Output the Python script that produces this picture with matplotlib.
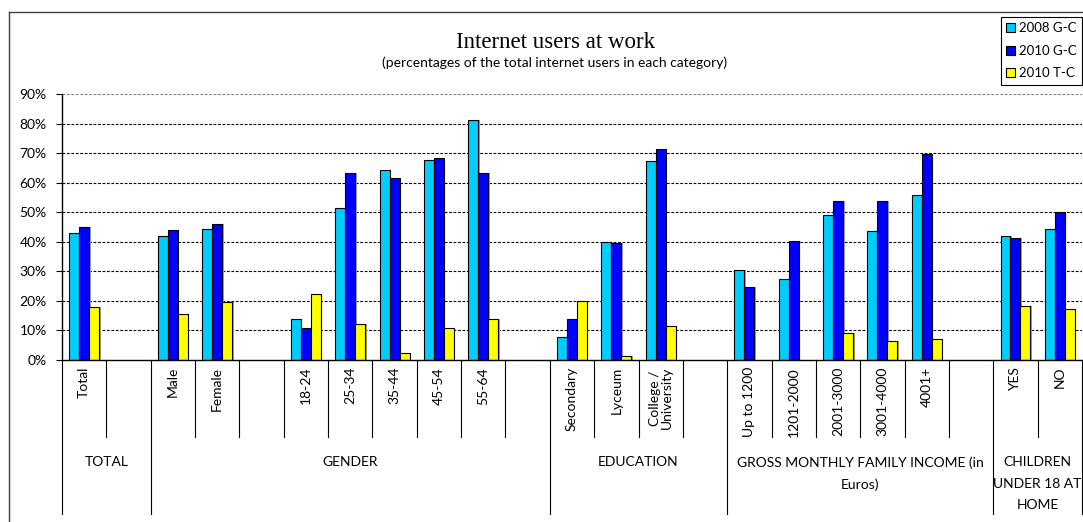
import numpy as np
import matplotlib
matplotlib.use("Agg")
import matplotlib.pyplot as plt
import matplotlib.transforms as mtransforms
from matplotlib.patches import Patch
from matplotlib.lines import Line2D

plt.rcParams['font.family'] = ['Lato', 'DejaVu Sans']

nan = np.nan

# data (percent)
groups = ["TOTAL", "GENDER", "EDUCATION",
          "GROSS MONTHLY FAMILY INCOME (in\nEuros)", "CHILDREN\nUNDER 18 AT\nHOME"]
group_sizes = [2, 9, 4, 6, 2]
categories = ["Total", "",
              "Male", "Female", "", "18-24", "25-34", "35-44", "45-54", "55-64", "",
              "Secondary", "Lyceum", "College /\nUniversity", "",
              "Up to 1200", "1201-2000", "2001-3000", "3001-4000", "4001+", "",
              "YES", "NO"]
g2008 = [43.0, nan, 42.0, 44.3, nan, 14.0, 51.3, 64.2, 67.7, 81.1, nan,
         7.7, 39.8, 67.3, nan, 30.5, 27.4, 48.9, 43.6, 55.7, nan, 41.8, 44.3]
g2010 = [45.0, nan, 44.0, 46.1, nan, 10.8, 63.4, 61.7, 68.3, 63.2, nan,
         14.0, 39.6, 71.3, nan, 24.8, 40.4, 53.9, 53.8, 69.8, nan, 41.2, 50.0]
t2010 = [17.8, nan, 15.7, 19.5, nan, 22.4, 12.2, 2.3, 10.8, 14.0, nan,
         20.0, 1.2, 11.5, nan, nan, nan, 9.0, 6.5, 7.2, nan, 18.2, 17.1]
series_names = ["2008 G-C", "2010 G-C", "2010 T-C"]
colors = ["#00CCFF", "#0000FF", "#FFFF00"]

W, H = 1083, 522
fig = plt.figure(figsize=(W / 100, H / 100), dpi=100)


def fx(x):
    return x / W


def fy(y):
    return 1 - y / H


# plot area in pixels
left, right, top, bottom = 62, 1082, 94, 360
ax = fig.add_axes([fx(left), fy(bottom), fx(right) - fx(left), fy(top) - fy(bottom)])
plot_h = bottom - top

n = len(categories)
x = np.arange(n) + 0.5
bw = 0.225
shadow_dx = 1.5 / ((right - left) / n)
for i, (vals, name, c) in enumerate(zip([g2008, g2010, t2010], series_names, colors)):
    # soft shadow like the Excel bars
    ax.bar(x + (i - 1) * bw + shadow_dx, vals, width=bw, color="#a0a0a0",
           linewidth=0, zorder=2)
    ax.bar(x + (i - 1) * bw, vals, width=bw, color=c, edgecolor="black",
           linewidth=0.8, label=name, zorder=3)

ax.set_xlim(0, n)
ax.set_ylim(0, 90)
ax.set_yticks(range(0, 91, 10))
ax.set_yticklabels([f"{v}%" for v in range(0, 91, 10)])
ax.set_xticks([])
ax.tick_params(axis="y", direction="out", length=4, width=0.8, labelsize=10, pad=7)

for v in range(10, 91, 10):
    ax.axhline(v, color="#808080" if v == 90 else "black", lw=0.8,
               linestyle=(0, (2.5, 1.5)), zorder=1)

for s in ["top", "right"]:
    ax.spines[s].set_visible(False)
ax.spines["left"].set_linewidth(1)
ax.spines["bottom"].set_linewidth(1)
ax.spines["left"].set_zorder(4)
ax.spines["bottom"].set_zorder(4)

trans = mtransforms.blended_transform_factory(ax.transData, ax.transAxes)

# category separators and labels
short = -77 / plot_h
long_ = -154 / plot_h
bounds = np.cumsum([0] + group_sizes)
for b in range(n + 1):
    y2 = long_ if b in bounds else short
    ax.add_line(Line2D([b, b], [0, y2], transform=trans, color="black",
                       lw=0.8, clip_on=False))

for xi, lab in zip(x, categories):
    if lab:
        ax.text(xi, -7 / plot_h, lab, transform=trans, rotation=90, ha="center",
                va="top", fontsize=10, multialignment="center", linespacing=1.0)

for gi, g in enumerate(groups):
    cx = (bounds[gi] + bounds[gi + 1]) / 2
    ax.text(cx, -96 / plot_h, g, transform=trans, ha="center", va="top",
            fontsize=10, linespacing=1.95)

# titles
fig.text(fx(556), fy(42), "Internet users at work", ha="center", va="center",
         fontsize=16.5, family=["Liberation Serif"])
fig.text(fx(555), fy(63), "(percentages of the total internet users in each category)",
         ha="center", va="center", fontsize=10)

# legend
handles = [Patch(facecolor=c, edgecolor="black", linewidth=0.8) for c in colors]
leg = fig.legend(handles, series_names, loc="upper right",
                 bbox_to_anchor=(fx(1082), fy(17)), fontsize=9.5, frameon=True,
                 fancybox=False, edgecolor="black", framealpha=1,
                 handlelength=0.7, handleheight=0.7, handletextpad=0.3,
                 borderpad=0.4, labelspacing=0.8, borderaxespad=0)
leg.get_frame().set_linewidth(0.8)

# chart outer border
fig.add_artist(Line2D([fx(9), fx(9)], [fy(12), 0], transform=fig.transFigure,
                      color="#404040", lw=1))
fig.add_artist(Line2D([fx(9), 1], [fy(12), fy(12)], transform=fig.transFigure,
                      color="#404040", lw=1))

fig.savefig("out.png", dpi=100)
